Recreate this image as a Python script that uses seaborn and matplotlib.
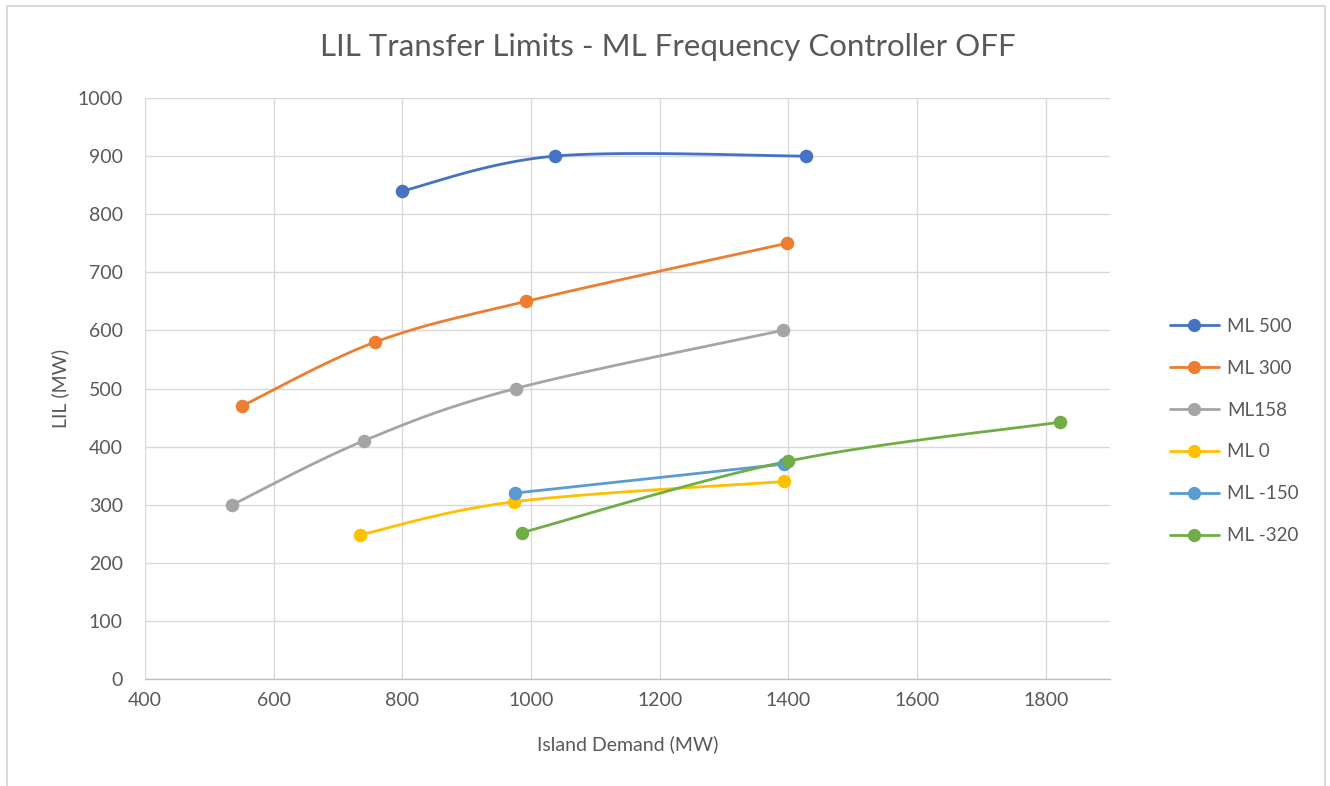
import numpy as np
import pandas as pd
import matplotlib
matplotlib.use("Agg")
import matplotlib.pyplot as plt
from matplotlib.lines import Line2D
from matplotlib.patches import Rectangle
import seaborn as sns

# Island demand (MW) and LIL transfer limit (MW) for each ML loading
series_names = ["ML 500", "ML 300", "ML158", "ML 0", "ML -150", "ML -320"]
demand_ml500 = [800, 1037, 1427]
limit_ml500 = [840, 900, 900]
demand_ml300 = [551, 758, 992, 1398]
limit_ml300 = [470, 580, 650, 750]
demand_ml158 = [536, 740, 976, 1391]
limit_ml158 = [300, 410, 500, 600]
demand_ml0 = [734, 973, 1394]
limit_ml0 = [248, 305, 340]
demand_mlm150 = [975, 1394]
limit_mlm150 = [320, 370]
demand_mlm320 = [986, 1400, 1822]
limit_mlm320 = [252, 375, 442]

x_ticks = [400, 600, 800, 1000, 1200, 1400, 1600, 1800]
y_ticks = [0, 100, 200, 300, 400, 500, 600, 700, 800, 900, 1000]

colors = ["#4472C4", "#ED7D31", "#A5A5A5", "#FFC000", "#5B9BD5", "#70AD47"]

sns.set_theme(style="white")
plt.rcParams["font.family"] = ["Lato", "DejaVu Sans"]

W, H = 1330, 786
fig = plt.figure(figsize=(W / 100, H / 100), dpi=100)
fig.patch.set_facecolor("white")
ax = fig.add_axes([145 / W, 1 - 679 / H, 965 / W, 581 / H])

x_min, x_max, y_min, y_max = 400, 1900, 0, 1000
# pixel-per-unit scales so the smoothing acts in screen proportions
sx = 965 / (x_max - x_min)
sy = 581 / (y_max - y_min)


def smooth_curve(xs, ys, n=60):
    """Catmull-Rom smoothing of a polyline, as office charts draw it."""
    p = np.column_stack([np.asarray(xs, float) * sx, np.asarray(ys, float) * sy])
    if len(p) < 3:
        return np.asarray(xs, float), np.asarray(ys, float)
    ext = np.vstack([p[0], p, p[-1]])
    out = []
    for i in range(1, len(ext) - 2):
        p0, p1, p2, p3 = ext[i - 1], ext[i], ext[i + 1], ext[i + 2]
        c1 = p1 + (p2 - p0) / 6
        c2 = p2 - (p3 - p1) / 6
        t = np.linspace(0, 1, n)[:, None]
        seg = ((1 - t) ** 3) * p1 + 3 * ((1 - t) ** 2) * t * c1 + 3 * (1 - t) * t ** 2 * c2 + t ** 3 * p2
        out.append(seg if i == 1 else seg[1:])
    out = np.vstack(out)
    return out[:, 0] / sx, out[:, 1] / sy


all_series = [
    (demand_ml500, limit_ml500),
    (demand_ml300, limit_ml300),
    (demand_ml158, limit_ml158),
    (demand_ml0, limit_ml0),
    (demand_mlm150, limit_mlm150),
    (demand_mlm320, limit_mlm320),
]

for (xs, ys), name, col in zip(all_series, series_names, colors):
    cx, cy = smooth_curve(xs, ys)
    sns.lineplot(x=cx, y=cy, sort=False, estimator=None, color=col,
                 linewidth=2.0, ax=ax, zorder=3)
    pts = pd.DataFrame({"demand": xs, "limit": ys})
    sns.scatterplot(data=pts, x="demand", y="limit", color=col, s=95,
                    edgecolor=col, linewidth=0, ax=ax, zorder=4)

ax.set_xlim(x_min, x_max)
ax.set_ylim(y_min, y_max)
ax.set_xticks(x_ticks)
ax.set_yticks(y_ticks)
ax.grid(True, color="#D9D9D9", linewidth=1.0)
ax.set_axisbelow(True)
for side in ["top", "right", "left"]:
    ax.spines[side].set_visible(False)
ax.spines["bottom"].set_color("#BFBFBF")
ax.spines["bottom"].set_linewidth(1.0)
ax.tick_params(axis="both", length=0, labelsize=14, labelcolor="#595959")
ax.tick_params(axis="x", pad=9)
ax.tick_params(axis="y", pad=16)

ax.set_xlabel("Island Demand (MW)", fontsize=14, color="#595959", labelpad=19)
ax.set_ylabel("LIL (MW)", fontsize=14, color="#595959", labelpad=6)

fig.text(668 / W, 1 - 47 / H, "LIL Transfer Limits - ML Frequency Controller OFF",
         ha="center", va="center", fontsize=22.5, color="#595959")

handles = [Line2D([0], [0], color=c, linewidth=2.0, marker="o", markersize=9.5,
                  markeredgewidth=0) for c in colors]
fig.legend(handles, series_names, loc="center left",
           bbox_to_anchor=(1170 / W, 1 - 431 / H), frameon=False,
           fontsize=13.5, labelcolor="#595959", labelspacing=1.33,
           handlelength=2.6, handletextpad=0.45, borderpad=0, borderaxespad=0)

# outer chart frame
fig.patches.append(Rectangle((7 / W, -0.05), (1325 - 7) / W, 1.05 - 6 / H,
                             transform=fig.transFigure, fill=False,
                             edgecolor="#D9D9D9", linewidth=1.5))

fig.savefig("out.png", dpi=100)
